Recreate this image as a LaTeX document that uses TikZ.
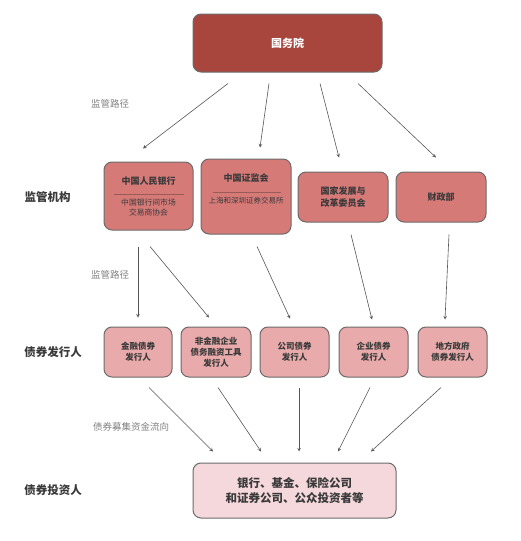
\documentclass[tikz,border=0pt]{standalone}
\usepackage{fontspec}
\setmainfont{Noto Sans CJK SC}
\usepackage{tikz}
\usetikzlibrary{positioning,arrows.meta}
\definecolor{topred}{HTML}{A8463E}
\definecolor{midred}{HTML}{D67A78}
\definecolor{lowred}{HTML}{E8AAAA}
\definecolor{palered}{HTML}{F5D8DC}
\definecolor{boxline}{HTML}{6B6B6B}
\definecolor{arrowgray}{HTML}{555555}
\definecolor{darktext}{HTML}{3A3A3A}
\definecolor{lighttext}{HTML}{808080}
\definecolor{seprule}{HTML}{9A5A58}
\tikzset{
  box/.style={draw=boxline, line width=1pt, rounded corners=8pt, align=center, inner sep=2pt, text=darktext},
  topbox/.style={box, fill=topred, text=white, font=\fontsize{11}{13}\selectfont\bfseries},
  regbox/.style={box, fill=midred, minimum width=90pt, font=\fontsize{9}{12}\selectfont\bfseries},
  issuebox/.style={box, fill=lowred, minimum width=69pt, minimum height=50pt, font=\fontsize{8.5}{11}\selectfont\bfseries},
  invbox/.style={box, fill=palered, font=\fontsize{11.5}{15}\selectfont\bfseries},
  rowlabel/.style={text=darktext, font=\fontsize{11.5}{13}\selectfont\bfseries},
  pathlabel/.style={text=lighttext, font=\fontsize{9.5}{11}\selectfont},
  subtext/.style={text=darktext, align=center, font=\fontsize{7.8}{10}\selectfont},
  titletext/.style={text=darktext, font=\fontsize{9}{11}\selectfont\bfseries},
  sepline/.style={draw=seprule, line width=0.4pt},
  conn/.style={->, >=stealth, draw=arrowgray, line width=0.6pt}
}
\begin{document}
\begin{tikzpicture}[x=1pt, y=-1pt]
  \useasboundingbox (0,0) rectangle (520,541);

  \node[topbox, minimum width=189pt, minimum height=58pt] (gwy) at (287.5,43) {国务院};

  \node[regbox, minimum width=89pt, minimum height=68pt] (pboc) at (148.5,196) {};
  \node[titletext] (pboct) at ([yshift=15pt]pboc.center) {中国人民银行};
  \node[subtext] (pbocs) at ([yshift=-12pt]pboc.center) {中国银行间市场\\交易商协会};
  \draw[sepline] ([xshift=10pt,yshift=2pt]pboc.west) -- ([xshift=-10pt,yshift=2pt]pboc.east);

  \node[regbox, minimum height=75pt] (csrc) at (246,196.5) {};
  \node[titletext] (csrct) at ([yshift=18.5pt]csrc.center) {中国证监会};
  \node[subtext, font=\fontsize{7.5}{10}\selectfont] (csrcs) at ([yshift=-4.5pt]csrc.center) {上海和深圳证券交易所};
  \draw[sepline] ([xshift=12pt,yshift=4.5pt]csrc.west) -- ([xshift=-11pt,yshift=4.5pt]csrc.east);

  \node[regbox, minimum height=50pt] (ndrc) at (343,197) {国家发展与\\改革委员会};
  \node[regbox, minimum height=50pt] (mof) at (441,197) {财政部};

  \node[issuebox, minimum width=68pt] (fin) at (138,352) {金融债券\\发行人};
  \node[issuebox, minimum width=70pt] (nonfin) at (216,352) {非金融企业\\债务融资工具\\发行人};
  \node[issuebox] (corp) at (294.5,352) {公司债券\\发行人};
  \node[issuebox] (ent) at (373.5,352) {企业债券\\发行人};
  \node[issuebox] (local) at (452.5,352) {地方政府\\债券发行人};

  \node[invbox, minimum width=203pt, minimum height=55pt] (inv) at (294.5,490.5) {银行、基金、保险公司\\和证券公司、公众投资者等};

  \node[pathlabel] (path1) at (110,104) {监管路径};
  \node[rowlabel] (lab1) at (47.5,197) {监管机构};
  \node[pathlabel] (path2) at (110,275) {监管路径};
  \node[rowlabel] (lab2) at (53,352) {债券发行人};
  \node[pathlabel] (path3) at (131,427) {债券募集资金流向};
  \node[rowlabel] (lab3) at (53,490) {债券投资人};

  \draw[conn] ([xshift=-59.5pt,yshift=-11pt]gwy.south) -- ([xshift=-5.5pt,yshift=13pt]pboc.north);
  \draw[conn] ([xshift=-18.5pt,yshift=-11pt]gwy.south) -- ([xshift=14pt,yshift=11pt]csrc.north);
  \draw[conn] ([xshift=32.5pt,yshift=-11pt]gwy.south) -- ([xshift=-4pt,yshift=14pt]ndrc.north);
  \draw[conn] ([xshift=70.5pt,yshift=-11pt]gwy.south) -- ([xshift=-5pt,yshift=14pt]mof.north);

  \draw[conn] ([xshift=-10.5pt,yshift=-16pt]pboc.south) -- ([yshift=9pt]fin.north);
  \draw[conn] ([xshift=1.5pt,yshift=-16pt]pboc.south) -- ([xshift=-7pt,yshift=9pt]nonfin.north);
  \draw[conn] ([xshift=11pt,yshift=-12pt]csrc.south) -- ([xshift=-4.5pt,yshift=8pt]corp.north);
  \draw[conn] ([xshift=8pt,yshift=-12pt]ndrc.south) -- ([xshift=-1.5pt,yshift=7pt]ent.north);
  \draw[conn] ([xshift=8pt,yshift=-12pt]mof.south) -- ([xshift=-7.5pt,yshift=7pt]local.north);

  \draw[conn] ([xshift=11pt,yshift=-10pt]fin.south) -- ([xshift=-81.5pt,yshift=11pt]inv.north);
  \draw[conn] ([xshift=2pt,yshift=-10pt]nonfin.south) -- ([xshift=-33.5pt,yshift=11pt]inv.north);
  \draw[conn] ([xshift=4.5pt,yshift=-10pt]corp.south) -- ([xshift=4.5pt,yshift=11pt]inv.north);
  \draw[conn] ([xshift=-3.5pt,yshift=-10pt]ent.south) -- ([xshift=43.5pt,yshift=11pt]inv.north);
  \draw[conn] ([xshift=-11.5pt,yshift=-10pt]local.south) -- ([xshift=76.5pt,yshift=11pt]inv.north);
\end{tikzpicture}
\end{document}
